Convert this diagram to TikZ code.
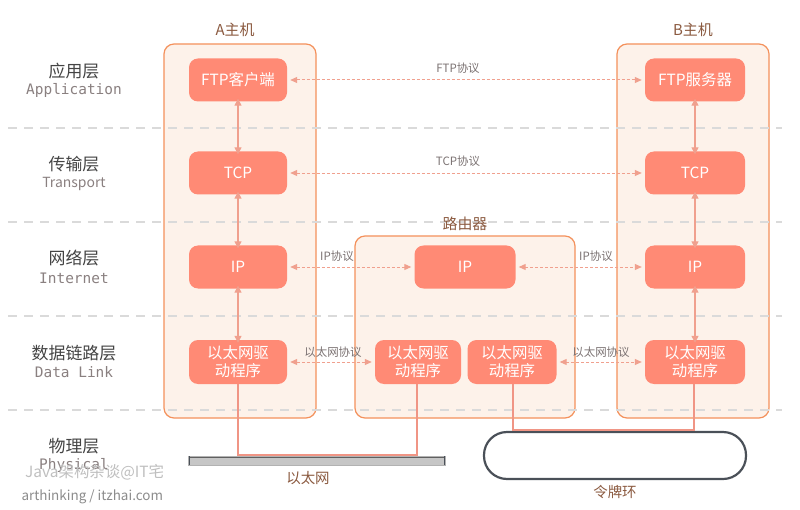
\documentclass[tikz,border=0pt]{standalone}
\usepackage{fontspec}
\setmainfont{Noto Sans CJK SC}
\newfontfamily\cjk{Noto Sans CJK SC}
\newfontfamily\monof{DejaVu Sans Mono}
\usetikzlibrary{arrows.meta}
\definecolor{boxborder}{HTML}{F4915C}
\definecolor{boxfill}{HTML}{FDF2EA}
\definecolor{nodefill}{HTML}{FF8A75}
\definecolor{arrowc}{HTML}{F0A08E}
\definecolor{linec}{HTML}{F09585}
\definecolor{titlec}{HTML}{8B5A40}
\definecolor{layerc}{HTML}{444444}
\definecolor{engc}{HTML}{8A8080}
\definecolor{sepc}{HTML}{DADADA}
\definecolor{ringc}{HTML}{4A5058}
\tikzset{
  host/.style={draw=boxborder, fill=boxfill, line width=1.2pt, rounded corners=10bp},
  proto/.style={fill=nodefill, text=white, rounded corners=9bp, minimum width=98bp, minimum height=43bp, align=center, font=\fontsize{15.5}{18}\selectfont\cjk, inner sep=2bp},
  ethbox/.style={proto, minimum width=86bp, minimum height=44bp},
  plabel/.style={text=engc!90!black, font=\fontsize{11.5}{13}\selectfont\cjk, inner sep=1bp},
  peer/.style={draw=arrowc, line width=1pt, dash pattern=on 3bp off 2bp, {Triangle[length=7bp,width=6bp]}-{Triangle[length=7bp,width=6bp]}},
  vert/.style={draw=arrowc, line width=1.3pt, {Triangle[length=7bp,width=7bp]}-{Triangle[length=7bp,width=7bp]}},
  sep/.style={draw=sepc, line width=1.5pt, dash pattern=on 9bp off 7bp},
  layer/.style={text=layerc, font=\fontsize{17}{19}\selectfont\cjk},
  eng/.style={text=engc, font=\fontsize{14.5}{16}\selectfont\monof},
  ttl/.style={text=titlec, font=\fontsize{15}{17}\selectfont\cjk},
  wire/.style={draw=linec, line width=1.5pt},
}
\begin{document}
\begin{tikzpicture}[x=1bp,y=-1bp]
\useasboundingbox[fill=white] (0,0) rectangle (800,510);
% host boxes
\draw[host] (164,44) rectangle (316,418);
\draw[host] (617,44) rectangle (769,418);
\draw[host] (355,236) rectangle (575,418);
% separators
\foreach \yy in {128,222,316,410} \draw[sep] (8,\yy) -- (782,\yy);
% titles
\node[ttl] (ta) at (235,30) {A主机};
\node[ttl] (tb) at (693,30) {B主机};
\node[ttl] (tr) at (465,224) {路由器};
% layer labels
\node[layer] (l1) at (74,71) {应用层};
\node[eng] (e1) at (74,90) {Application};
\node[layer] (l2) at (74,164) {传输层};
\node[text=engc, font=\fontsize{14}{16}\selectfont\cjk] (e2) at (74,184) {Transport};
\node[layer] (l3) at (74,258) {网络层};
\node[eng] (e3) at (74,278) {Internet};
\node[layer] (l4) at (74,353) {数据链路层};
\node[eng] (e4) at (74,372) {Data Link};
\node[layer] (l5) at (74,446) {物理层};
\node[eng] (e5) at (74,465) {Physical};
% watermark
\node[text=gray!50, font=\fontsize{15.5}{17}\selectfont\cjk, anchor=west, inner sep=0pt] (w1) at (25,472) {Java架构杂谈@IT宅};
\node[text=gray!90, font=\fontsize{13.5}{15}\selectfont\cjk, anchor=west] (w2) at (18,497) {arthinking / itzhai.com};
% nodes
\node[proto] (fa) at (238,80) {FTP客户端};
\node[proto] (ca) at (238,173) {TCP};
\node[proto] (ia) at (238,267) {IP};
\node[proto, minimum height=44bp] (ea) at (238,362) {以太网驱\\动程序};
\node[proto, minimum width=100bp] (fb) at (695,80) {FTP服务器};
\node[proto, minimum width=100bp] (cb) at (695,173) {TCP};
\node[proto, minimum width=100bp] (ib) at (695,267) {IP};
\node[proto, minimum width=100bp, minimum height=44bp] (eb) at (695,362) {以太网驱\\动程序};
\node[proto, minimum width=101bp] (ir) at (465,267) {IP};
\node[ethbox] (er1) at (418,362) {以太网驱\\动程序};
\node[ethbox, minimum width=89bp] (er2) at (512,362) {以太网驱\\动程序};
% vertical arrows
\draw[vert] ([yshift=3bp]fa.south) -- ([yshift=-3bp]ca.north);
\draw[vert] ([yshift=3bp]ca.south) -- ([yshift=-3bp]ia.north);
\draw[vert] ([yshift=3bp]ia.south) -- ([yshift=-3bp]ea.north);
\draw[vert] ([yshift=3bp]fb.south) -- ([yshift=-3bp]cb.north);
\draw[vert] ([yshift=3bp]cb.south) -- ([yshift=-3bp]ib.north);
\draw[vert] ([yshift=3bp]ib.south) -- ([yshift=-3bp]eb.north);
% peer arrows
\draw[peer] ([xshift=3bp]fa.east) -- ([xshift=-3bp]fb.west);
\node[plabel] (p1) at (458,68) {FTP协议};
\draw[peer] ([xshift=3bp]ca.east) -- ([xshift=-3bp]cb.west);
\node[plabel] (p2) at (458,161) {TCP协议};
\draw[peer] ([xshift=3bp]ia.east) -- ([xshift=-3bp]ir.west);
\node[plabel] (p3) at (337,256) {IP协议};
\draw[peer] ([xshift=3bp]ir.east) -- ([xshift=-3bp]ib.west);
\node[plabel] (p4) at (596,256) {IP协议};
\draw[peer] ([xshift=3bp]ea.east) -- ([xshift=-3bp]er1.west);
\node[plabel] (p5) at (333,352) {以太网协议};
\draw[peer] ([xshift=3bp]er2.east) -- ([xshift=-3bp]eb.west);
\node[plabel] (p6) at (601,352) {以太网协议};
% physical: ethernet bus
\fill[gray!45] (188,456) rectangle (445,465);
\draw[gray!75!black, line width=1pt] (188,457) -- (445,457);
\draw[gray!60, line width=0.6pt] (188,456) rectangle (445,465);
\draw[ringc, line width=1pt] (189,456) -- (189,465) (444,456) -- (444,465);
\node[ttl, font=\fontsize{14.5}{16}\selectfont\cjk] (eth) at (308,478) {以太网};
\coordinate (c1) at (238,455);
\coordinate (c2) at (417,455);
\draw[wire] (ea.south) -- (c1) -- (c2) -- (er1.south -| c2);
% token ring
\draw[ringc, line width=2.2pt, rounded corners=23bp] (484,432) rectangle (746,479);
\node[ttl, font=\fontsize{14.5}{16}\selectfont\cjk] (ring) at (615,492) {令牌环};
\coordinate (c3) at (513,430);
\coordinate (c4) at (694,430);
\draw[wire] (er2.south -| c3) -- (c3) -- (c4) -- (eb.south -| c4);
\end{tikzpicture}
\end{document}
